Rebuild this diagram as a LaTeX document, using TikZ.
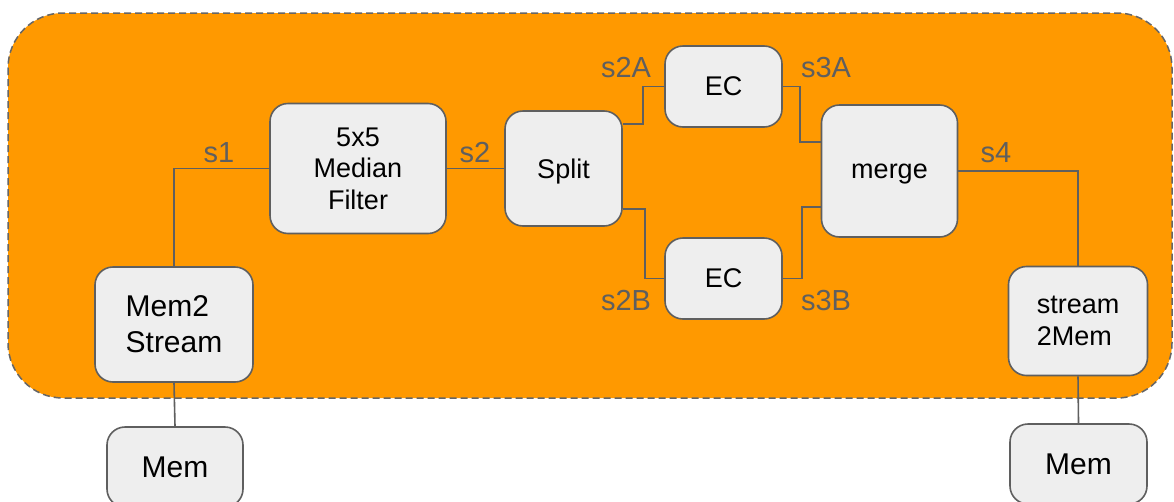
\documentclass[tikz,border=0pt]{standalone}
\usepackage{fontspec}
\setmainfont{Liberation Sans}
\definecolor{bgorange}{HTML}{FF9900}
\definecolor{boxfill}{HTML}{EEEEEE}
\definecolor{edge}{HTML}{5F5F5F}
\definecolor{lbl}{HTML}{5F5F5F}
\definecolor{dashgray}{HTML}{666666}
\begin{document}
\begin{tikzpicture}[x=1pt,y=-1pt,
  blk/.style={draw=edge, line width=1.6pt, fill=boxfill, rounded corners=18pt,
    inner sep=0pt, align=center, text=black, font=\fontsize{27}{31.5}\selectfont},
  big/.style={font=\fontsize{30}{36}\selectfont},
  wire/.style={draw=edge, line width=1.6pt},
  lab/.style={text=lbl, font=\fontsize{29}{32}\selectfont, inner sep=0pt}]
\useasboundingbox (0,0) rectangle (1174,501);
\fill[white] (0,0) rectangle (1174,501);
\draw[fill=bgorange, draw=dashgray, line width=1.5pt, dash pattern=on 7pt off 4pt,
  rounded corners=55pt] (8,13) rectangle (1172,398);

\node[blk, big, align=left, minimum width=158pt, minimum height=115pt] (m2s) at (174,324.5) {Mem2\\Stream};
\node[blk, big, minimum width=136pt, minimum height=80pt] (memL) at (175,467) {Mem};
\node[blk, minimum width=176pt, minimum height=130pt, text depth=-3pt] (med) at (358,168.5) {5x5\\Median\\Filter};
\node[blk, minimum width=117pt, minimum height=115pt, text depth=0pt] (split) at (563.5,168.5) {Split};
\node[blk, minimum width=117pt, minimum height=81pt] (ecA) at (723.5,86.5) {EC};
\node[blk, minimum width=117pt, minimum height=81pt] (ecB) at (723.5,278.5) {EC};
\node[blk, minimum width=136pt, minimum height=132pt, text depth=0pt] (merge) at (889.5,171) {merge};
\node[blk, align=left, minimum width=139pt, minimum height=109pt] (s2m) at (1078,321) {stream\\2Mem};
\node[blk, big, minimum width=137pt, minimum height=80pt] (memR) at (1078.5,464) {Mem};

\draw[wire] (m2s.north) |- (med.west);
\draw[wire] (med.east) -- (split.west);
\draw[wire] ([yshift=44.5pt]split.east) -- ++(20,0) |- (ecA.west);
\draw[wire] ([yshift=-40.5pt]split.east) -- ++(22,0) |- (ecB.west);
\draw[wire] (ecA.east) -- ++(17,0) |- ([yshift=29pt]merge.west);
\draw[wire] (ecB.east) -- ++(19,0) |- ([yshift=-36pt]merge.west);
\draw[wire] (merge.east) -| (s2m.north);
\draw[wire] (m2s.south) -- (memL.north);
\draw[wire] (s2m.south) -- (memR.north);

\node[lab] (l1) at (219,153) {s1};
\node[lab] (l2) at (475,153) {s2};
\node[lab] (l2a) at (626,68) {s2A};
\node[lab] (l3a) at (826,68) {s3A};
\node[lab] (l2b) at (626,301) {s2B};
\node[lab] (l3b) at (826,301) {s3B};
\node[lab] (l4) at (996,153) {s4};
\end{tikzpicture}
\end{document}
